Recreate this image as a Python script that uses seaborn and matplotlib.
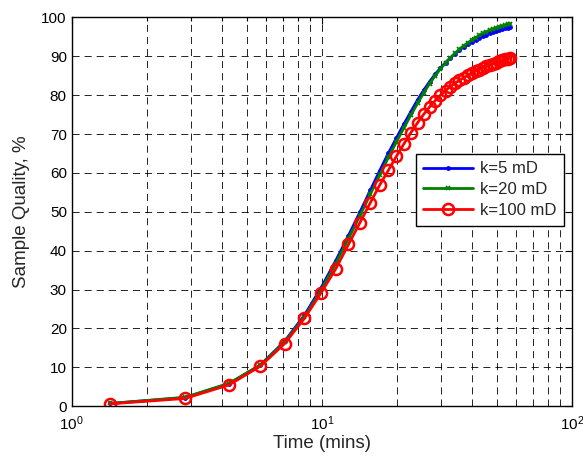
import matplotlib
matplotlib.use("Agg")
import matplotlib.pyplot as plt
import numpy as np
import pandas as pd
import seaborn as sns
from matplotlib.ticker import LogLocator

# Sampling times (minutes)
time_mins = [1.42, 2.84, 4.26, 5.68, 7.10, 8.52, 9.94, 11.36, 12.78, 14.20,
             15.62, 17.04, 18.46, 19.88, 21.30, 22.72, 24.14, 25.56, 26.98, 28.40,
             29.82, 31.24, 32.66, 34.08, 35.50, 36.92, 38.34, 39.76, 41.18, 42.60,
             44.02, 45.44, 46.86, 48.28, 49.70, 51.12, 52.54, 53.96, 55.38, 56.80]

# Sample quality (%) for each permeability
quality_k5 = [0.7, 2.2, 5.8, 10.6, 16.7, 23.4, 30.5, 37.4, 43.9, 49.9,
              55.5, 60.6, 65.1, 69.0, 72.6, 75.8, 78.8, 81.3, 83.5, 85.4,
              87.0, 88.4, 89.6, 90.7, 91.6, 92.4, 93.1, 93.7, 94.3, 94.8,
              95.2, 95.6, 96.0, 96.3, 96.6, 96.8, 97.0, 97.2, 97.4, 97.6]
quality_k20 = [0.7, 2.3, 5.9, 10.6, 16.5, 23.0, 29.9, 36.7, 43.1, 49.0,
               54.5, 59.5, 64.0, 68.0, 71.6, 74.9, 77.9, 80.6, 83.0, 85.0,
               86.8, 88.3, 89.6, 90.8, 91.8, 92.7, 93.5, 94.2, 94.8, 95.4,
               95.9, 96.3, 96.7, 97.0, 97.3, 97.6, 97.8, 98.0, 98.2, 98.4]
quality_k100 = [0.6, 2.0, 5.5, 10.3, 16.1, 22.6, 29.2, 35.3, 41.6, 47.2,
                52.3, 56.9, 60.7, 64.3, 67.5, 70.4, 72.9, 75.1, 77.0, 78.6,
                80.0, 81.2, 82.2, 83.1, 83.8, 84.5, 85.1, 85.7, 86.2, 86.6,
                87.0, 87.4, 87.8, 88.1, 88.4, 88.7, 89.0, 89.2, 89.4, 89.6]

series_labels = ["k=5 mD", "k=20 mD", "k=100 mD"]
series_colors = [(0, 0, 1), (0, 0.5, 0), (1, 0, 0)]

df = pd.concat([
    pd.DataFrame({"t": time_mins, "q": vals, "k": lab})
    for vals, lab in zip([quality_k5, quality_k20, quality_k100], series_labels)
], ignore_index=True)

sns.set_style("white")
plt.rcParams["font.family"] = ["Liberation Sans", "DejaVu Sans"]
plt.rcParams["mathtext.fontset"] = "custom"
plt.rcParams["mathtext.rm"] = "Liberation Sans"
plt.rcParams["mathtext.it"] = "Liberation Sans:italic"

fig = plt.figure(figsize=(5.83, 4.59), dpi=100)
ax = fig.add_axes([0.123, 0.115, 0.858, 0.847])

sns.lineplot(data=df, x="t", y="q", hue="k", style="k", hue_order=series_labels,
             style_order=series_labels, palette=series_colors,
             markers=["o", "X", "o"], dashes=False, linewidth=2,
             estimator=None, sort=False, legend=False, ax=ax)

# marker styling per series
marker_styles = [
    dict(marker="o", markersize=3.5, markeredgewidth=0),
    dict(marker="x", markersize=3.5, markeredgewidth=1.2),
    dict(marker="o", markersize=8.0, markeredgewidth=1.8, markerfacecolor="none"),
]
lines = [ln for ln in ax.get_lines() if len(ln.get_xdata()) == len(time_mins)]
for ln, col, st, lab in zip(lines, series_colors, marker_styles, series_labels):
    ln.set_linestyle("-")
    ln.set_color(col)
    ln.set_marker(st["marker"])
    ln.set_markersize(st["markersize"])
    ln.set_markeredgewidth(st["markeredgewidth"])
    ln.set_markeredgecolor(col)
    ln.set_markerfacecolor(st.get("markerfacecolor", col))
    ln.set_label(lab)

ax.set_xscale("log")
ax.set_xlim(1, 100)
ax.set_ylim(0, 100)
ax.set_yticks(np.arange(0, 101, 10))
ax.xaxis.set_major_locator(LogLocator(base=10))
ax.xaxis.set_minor_locator(LogLocator(base=10, subs=np.arange(2, 10)))

dash = (0, (8.5, 6))
ax.grid(True, which="major", axis="both", color="black", linestyle=dash, linewidth=0.6)
ax.grid(True, which="minor", axis="x", color="black", linestyle=dash, linewidth=0.6)

ax.tick_params(which="both", direction="in", top=True, right=True, labelsize=11,
               colors="black", width=0.8)
ax.tick_params(which="major", length=5)
ax.tick_params(which="minor", length=3)
ax.tick_params(axis="x", pad=6)
for sp in ax.spines.values():
    sp.set_color("black")
    sp.set_linewidth(1.0)

ax.set_xlabel("Time (mins)", fontsize=13.5, labelpad=1)
ax.set_ylabel("Sample Quality, %", fontsize=13.5, labelpad=8)

leg = ax.legend(handles=lines, labels=series_labels, loc="upper left",
                bbox_to_anchor=(0.688, 0.649), borderaxespad=0,
                fontsize=12, frameon=True, fancybox=False, edgecolor="black",
                handlelength=3.0, handletextpad=0.4, borderpad=0.45, labelspacing=0.35,
                numpoints=1)
leg.get_frame().set_linewidth(1.0)
leg.get_frame().set_alpha(1)

fig.savefig("out.png", dpi=100, facecolor="white")
